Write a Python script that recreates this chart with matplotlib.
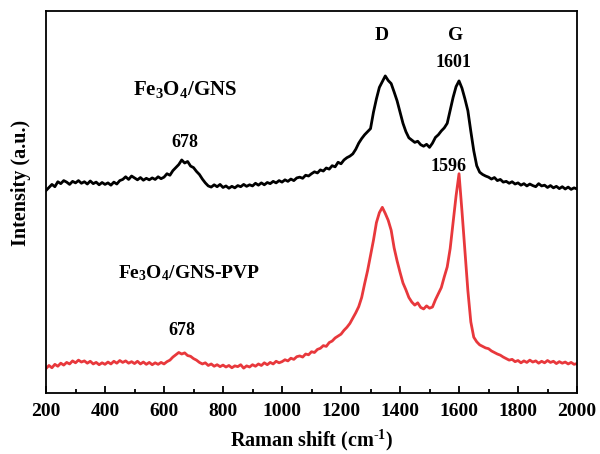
import matplotlib
matplotlib.use("Agg")
import matplotlib.pyplot as plt
import numpy as np
from matplotlib.ticker import MultipleLocator

# Raman shift axis, one point every 10 cm-1
shift = np.arange(200, 2001, 10)

# Fe3O4/GNS spectrum (black, upper)
gns = [
    53.0, 53.8, 54.6, 54.0, 55.3, 54.8, 55.6, 55.2, 54.6, 55.4,
    55.0, 55.6, 54.9, 55.3, 54.7, 55.5, 54.8, 55.2, 54.5, 55.1,
    54.6, 55.0, 54.4, 55.2, 54.7, 55.6, 55.9, 56.6, 55.9, 56.8,
    56.3, 55.8, 56.4, 55.7, 56.2, 55.8, 56.3, 55.9, 56.6, 56.1,
    56.5, 57.4, 57.0, 58.2, 59.0, 59.8, 61.0, 60.2, 60.6, 59.4,
    59.0, 58.0, 57.2, 56.0, 55.0, 54.2, 53.9, 54.5, 54.0, 54.6,
    53.8, 54.2, 53.6, 54.1, 53.7, 54.3, 54.0, 54.6, 54.1, 54.5,
    54.2, 54.9, 54.4, 55.0, 54.5, 55.1, 54.8, 55.4, 55.0, 55.6,
    55.2, 55.8, 55.4, 56.0, 55.6, 56.3, 56.5, 56.2, 57.0, 56.8,
    57.4, 57.9, 57.6, 58.4, 58.1, 58.9, 58.6, 59.5, 59.2, 60.4,
    60.0, 61.0, 61.6, 62.0, 62.6, 63.8, 65.4, 66.6, 67.6, 68.4,
    69.2, 73.5, 77.0, 80.0, 81.5, 83.0, 81.8, 81.0, 78.8, 76.5,
    73.6, 70.6, 68.4, 66.8, 66.2, 65.6, 65.9, 65.0, 64.6, 65.1,
    64.3, 65.4, 66.9, 67.6, 68.6, 69.4, 70.6, 74.0, 77.4, 80.2,
    81.7, 79.8, 77.0, 73.9, 68.5, 63.4, 59.5, 57.8, 57.2, 56.8,
    56.5, 56.0, 56.4, 55.6, 55.9, 55.2, 55.4, 54.9, 55.3, 54.7,
    55.0, 54.4, 54.8, 54.2, 54.7, 54.3, 54.0, 54.8, 54.2, 54.4,
    53.8, 54.3, 53.7, 54.1, 53.5, 54.0, 53.4, 53.9, 53.3, 53.7,
    53.4,
]

# Fe3O4/GNS-PVP spectrum (red, lower)
gns_pvp = [
    6.4, 7.2, 6.6, 7.5, 7.0, 7.8, 7.3, 8.0, 7.6, 8.4,
    7.9, 8.6, 8.1, 8.4, 7.8, 8.3, 7.6, 8.0, 7.4, 7.9,
    7.5, 8.1, 7.6, 8.3, 7.8, 8.5, 8.0, 8.4, 7.8, 8.2,
    7.7, 8.3, 7.6, 8.1, 7.5, 8.0, 7.4, 7.9, 7.5, 8.0,
    7.6, 8.2, 8.6, 9.4, 10.0, 10.6, 10.2, 10.5, 9.8, 9.6,
    9.0, 8.6, 8.0, 7.6, 7.9, 7.2, 7.6, 7.0, 7.4, 6.9,
    7.3, 6.8, 7.2, 6.6, 7.1, 6.9, 7.4, 6.5, 7.1, 6.8,
    7.4, 7.0, 7.6, 7.2, 7.9, 7.4, 8.0, 7.6, 8.3, 7.9,
    8.2, 8.7, 8.4, 9.1, 8.8, 9.5, 9.7, 9.4, 10.2, 10.0,
    10.8, 10.6, 11.4, 11.7, 12.4, 12.2, 13.2, 13.6, 14.4, 14.9,
    15.4, 16.4, 17.2, 18.2, 19.6, 21.0, 22.6, 25.0, 28.6, 32.0,
    36.0, 40.0, 44.6, 47.2, 48.6, 47.0, 45.2, 42.6, 38.0, 34.6,
    31.6, 28.8, 27.0, 25.0, 23.8, 23.0, 23.6, 22.4, 22.0, 22.8,
    22.2, 22.5, 24.4, 26.0, 27.6, 30.4, 33.0, 37.8, 44.6, 51.6,
    57.4, 47.6, 37.2, 26.8, 18.6, 14.6, 13.4, 12.6, 12.2, 11.8,
    11.6, 11.0, 10.6, 10.2, 9.9, 9.4, 9.0, 8.6, 8.8, 8.2,
    8.5, 7.9, 8.4, 8.0, 8.6, 8.1, 8.4, 7.8, 8.3, 7.9,
    8.5, 8.0, 8.3, 7.7, 8.2, 7.8, 8.1, 7.6, 8.0, 7.5,
    7.7,
]

plt.rcParams['font.family'] = ['Liberation Serif', 'DejaVu Serif']
plt.rcParams['font.weight'] = 'bold'
plt.rcParams['mathtext.fontset'] = 'custom'
plt.rcParams['mathtext.bf'] = 'Liberation Serif:bold'
plt.rcParams['mathtext.rm'] = 'Liberation Serif:bold'
plt.rcParams['mathtext.default'] = 'bf'

fig = plt.figure(figsize=(6, 4.54), dpi=100)
ax = fig.add_axes([0.0767, 0.1344, 0.885, 0.8414])

ax.plot(shift, gns, color='black', lw=2.0)
ax.plot(shift, gns_pvp, color='#e8383c', lw=2.0)

ax.set_xlim(200, 2000)
ax.set_ylim(0, 100)
ax.xaxis.set_major_locator(MultipleLocator(200))
ax.xaxis.set_minor_locator(MultipleLocator(100))
ax.tick_params(axis='x', which='major', direction='in', length=5, width=1.3, labelsize=14, pad=7)
ax.tick_params(axis='x', which='minor', direction='in', length=3, width=1.3)
ax.set_yticks([])
for sp in ax.spines.values():
    sp.set_linewidth(1.3)

ax.set_xlabel(r'Raman shift (cm$^{\text{-}1}$)', fontsize=14.5, fontweight='bold', labelpad=6)
ax.set_ylabel('Intensity (a.u.)', fontsize=14.5, fontweight='bold')
ax.yaxis.set_label_coords(-0.028, 0.55)

# peak annotations
kw = dict(ha='center', va='center', fontweight='bold')
ax.text(1337, 93.5, 'D', fontsize=14, **kw)
ax.text(1588, 93.5, 'G', fontsize=14, **kw)
ax.text(1580, 86.5, '1601', fontsize=13, **kw)
ax.text(1565, 59.2, '1596', fontsize=13, **kw)
ax.text(672, 65.5, '678', fontsize=13, **kw)
ax.text(660, 16.3, '678', fontsize=13, **kw)
ax.text(670, 79.5, 'Fe$_3$O$_4$/GNS', fontsize=15, **kw)
ax.text(685, 31.5, 'Fe$_3$O$_4$/GNS-PVP', fontsize=14, **kw)

fig.savefig('out.png', dpi=100)
